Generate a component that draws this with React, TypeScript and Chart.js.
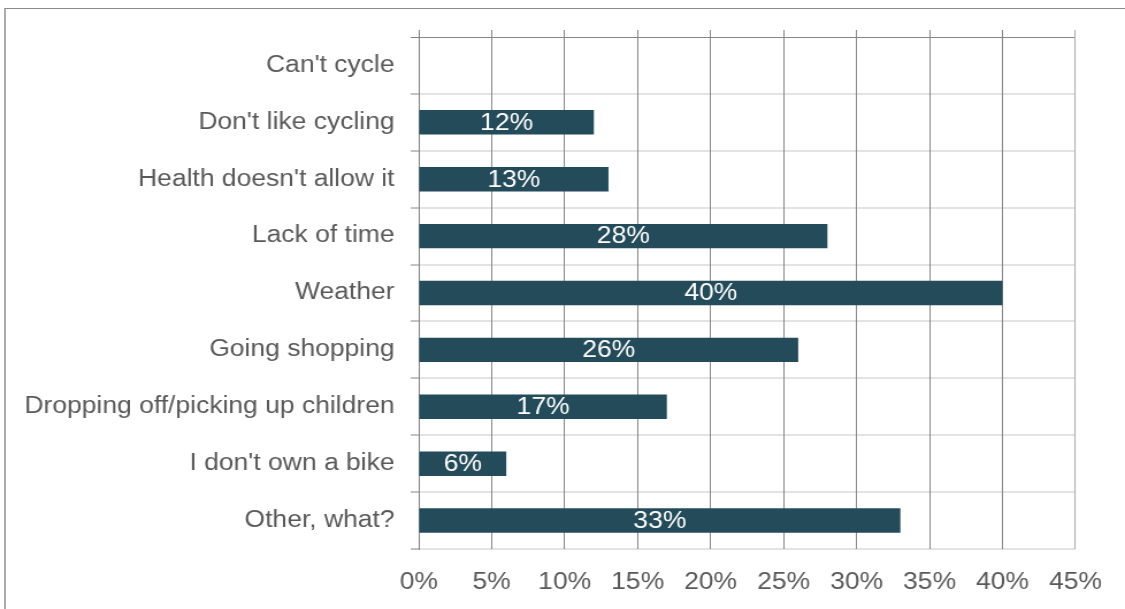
import React, { useEffect, useRef } from 'react';
import { Chart, registerables } from 'chart.js';

Chart.register(...registerables);

const categories = [
  "Can't cycle",
  "Don't like cycling",
  "Health doesn't allow it",
  'Lack of time',
  'Weather',
  'Going shopping',
  'Dropping off/picking up children',
  "I don't own a bike",
  'Other, what?',
];
const values = [0, 12, 13, 28, 40, 26, 17, 6, 33];
const xMin = 0;
const xMax = 45;
const xStep = 5;

const FONT = '"Liberation Sans", Arial, Helvetica, sans-serif';
const INTERNAL_W = 978;
const H = 609;

const gridDark = '#868686';
const gridLight = '#e3e3e3';
const gridEdge = '#aaaaaa';
const textGray = '#595959';
const barColor = '#244b5a';

const xGridColor = (ctx: any) => (ctx.tick && ctx.tick.value === xMax ? gridEdge : gridDark);

const barLabels = {
  id: 'barLabels',
  afterDatasetsDraw(chart: any) {
    const ctx = chart.ctx;
    const meta = chart.getDatasetMeta(0);
    ctx.save();
    ctx.fillStyle = '#ffffff';
    ctx.font = `23px ${FONT}`;
    ctx.textAlign = 'center';
    ctx.textBaseline = 'middle';
    meta.data.forEach((el: any, i: number) => {
      const v = values[i];
      if (!v) return;
      const { x, y, base } = el.getProps(['x', 'y', 'base'], true);
      ctx.fillText(`${v}%`, (x + base) / 2, y + 1);
    });
    ctx.restore();
  },
};

export default function App() {
  const ref = useRef<HTMLCanvasElement>(null);

  useEffect(() => {
    const chart = new Chart(ref.current as HTMLCanvasElement, {
      type: 'bar',
      data: {
        labels: categories,
        datasets: [
          {
            data: values,
            backgroundColor: barColor,
            barPercentage: 0.43,
            categoryPercentage: 1,
          },
        ],
      },
      options: {
        indexAxis: 'y',
        responsive: false,
        animation: false,
        devicePixelRatio: 1,
        layout: { padding: { left: 0, top: 30, right: 40, bottom: 0 } },
        plugins: { legend: { display: false }, tooltip: { enabled: false } },
        scales: {
          y: {
            type: 'category',
            position: 'left',
            offset: true,
            grid: {
              offset: true,
              color: (ctx: any) => (ctx.index === 0 ? gridDark : gridLight),
              lineWidth: (ctx: any) => (ctx.index === 0 ? 1 : 2),
              tickColor: gridDark,
              tickWidth: 1,
              tickLength: 7,
              drawTicks: true,
            },
            border: { display: true, color: gridDark, width: 1 },
            ticks: { color: textGray, font: { family: FONT, size: 23 }, padding: 14, autoSkip: false },
            afterFit: (s: any) => {
              s.width = 364;
            },
          },
          x: {
            type: 'linear',
            position: 'bottom',
            min: xMin,
            max: xMax,
            ticks: {
              stepSize: xStep,
              callback: (v: any) => `${v}%`,
              color: textGray,
              font: { family: FONT, size: 23 },
              padding: 20,
              maxRotation: 0,
              autoSkip: false,
            },
            grid: { color: xGridColor, lineWidth: 1, drawTicks: false },
            border: { display: false },
            afterFit: (s: any) => {
              s.height = 60;
            },
          },
          x2: {
            type: 'linear',
            position: 'top',
            min: xMin,
            max: xMax,
            ticks: { stepSize: xStep, display: false },
            grid: { color: xGridColor, lineWidth: 1, drawOnChartArea: false, drawTicks: true, tickLength: 7 },
            border: { display: false },
            afterFit: (s: any) => {
              s.height = 7;
            },
          },
        },
      } as any,
      plugins: [barLabels],
    });
    return () => chart.destroy();
  }, []);

  return (
    <div
      style={{
        position: 'fixed',
        left: 0,
        top: 0,
        width: 1125,
        height: H,
        background: '#ffffff',
        overflow: 'hidden',
      }}
    >
      <canvas
        ref={ref}
        width={INTERNAL_W}
        height={H}
        style={{ position: 'absolute', left: 0, top: 0, width: '1125px', height: `${H}px`, display: 'block' }}
      />
      <div
        style={{
          position: 'absolute',
          left: 4,
          top: 8,
          right: -10,
          bottom: -10,
          borderTop: '1px solid #8a8a8a',
          borderLeft: '2px solid #ababab',
          pointerEvents: 'none',
        }}
      />
    </div>
  );
}
